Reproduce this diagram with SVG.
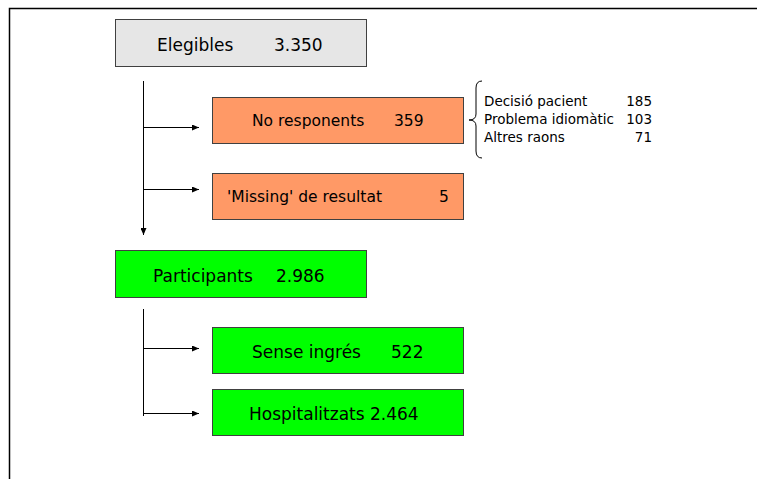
<svg xmlns="http://www.w3.org/2000/svg" width="757" height="479" viewBox="0 0 757 479">
<style>
.box{stroke:#404040;stroke-width:1}
.gray{fill:#e6e6e6}
.orange{fill:#ff9966}
.green{fill:#00ff00}
.t{font-family:"DejaVu Sans",Verdana,sans-serif;fill:#000}
.big{font-size:17px}
.mid{font-size:15.5px}
.small{font-size:13.5px}
.ln{stroke:#000;stroke-width:1;fill:none}
</style>
<defs>
<marker id="ah" markerWidth="7" markerHeight="6" refX="7" refY="3" orient="auto" markerUnits="userSpaceOnUse">
<path d="M0,0 L7,3 L0,6 Z" fill="#000"/>
</marker>
</defs>
<rect width="757" height="479" fill="#fff"/>
<path d="M9.5,479 V8.5 H757" fill="none" stroke="#000" stroke-width="1.5"/>

<g id="connectors">
<path class="ln" d="M143.5,81 V235" marker-end="url(#ah)"/>
<path class="ln" d="M143,127.5 H199" marker-end="url(#ah)"/>
<path class="ln" d="M143,189.5 H199" marker-end="url(#ah)"/>
<path class="ln" d="M143.5,309 V416"/>
<path class="ln" d="M143,348.5 H199" marker-end="url(#ah)"/>
<path class="ln" d="M143,413.5 H199" marker-end="url(#ah)"/>
</g>

<g id="elegibles">
<rect class="box gray" x="115.5" y="19.5" width="251" height="47"/>
<text class="t big" y="51"><tspan x="157">Elegibles</tspan><tspan x="274">3.350</tspan></text>
</g>

<g id="no-responents">
<rect class="box orange" x="212.5" y="97.5" width="251" height="46"/>
<text class="t mid" y="126"><tspan x="252">No responents</tspan><tspan x="394">359</tspan></text>
</g>

<g id="motius">
<path class="ln" d="M482,81 Q476,81 476,88 V114 Q476,120 469,120 Q476,120 476,126 V151 Q476,158 482,158"/>
<text class="t small" x="484" y="106">Decisió pacient</text>
<text class="t small" x="652" y="106" text-anchor="end">185</text>
<text class="t small" x="484" y="124">Problema idiomàtic</text>
<text class="t small" x="652" y="124" text-anchor="end">103</text>
<text class="t small" x="484" y="142">Altres raons</text>
<text class="t small" x="652" y="142" text-anchor="end">71</text>
</g>

<g id="missing">
<rect class="box orange" x="212.5" y="173.5" width="251" height="46"/>
<text class="t mid" y="202"><tspan x="227">'Missing' de resultat</tspan><tspan x="439">5</tspan></text>
</g>

<g id="participants">
<rect class="box green" x="115.5" y="250.5" width="251" height="47"/>
<text class="t big" y="282"><tspan x="153">Participants</tspan><tspan x="276">2.986</tspan></text>
</g>

<g id="sense-ingres">
<rect class="box green" x="212.5" y="327.5" width="251" height="46"/>
<text class="t big" y="358"><tspan x="252">Sense ingrés</tspan><tspan x="391">522</tspan></text>
</g>

<g id="hospitalitzats">
<rect class="box green" x="212.5" y="389.5" width="251" height="46"/>
<text class="t big" x="249" y="420">Hospitalitzats 2.464</text>
</g>
</svg>
